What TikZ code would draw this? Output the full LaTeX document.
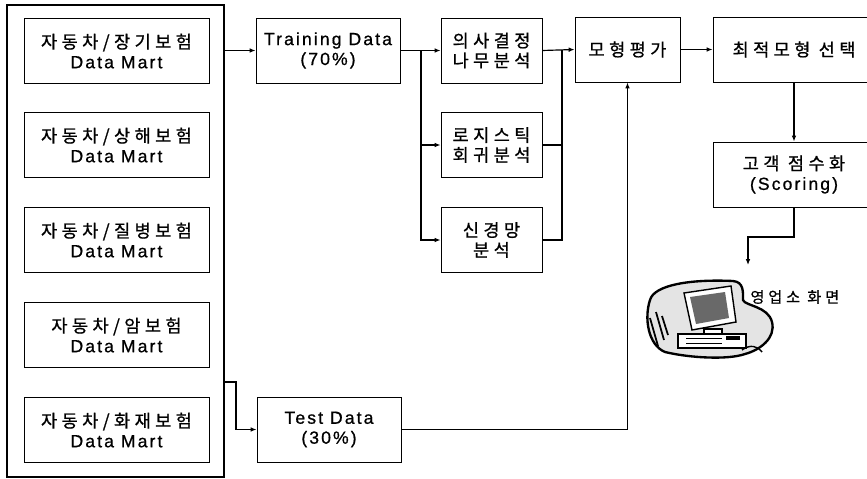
\documentclass[tikz,border=0pt]{standalone}
\usepackage{fontspec}
\setmainfont[LetterSpace=12,FakeBold=0.8]{Liberation Sans}
\newfontfamily\kr[LetterSpace=25,FakeBold=0.8]{Noto Sans CJK KR}
\usepackage{tikz}
\usetikzlibrary{arrows.meta}
\usepackage{xcolor}
\definecolor{blob_grey}{RGB}{228,228,228}
\definecolor{screen_grey}{RGB}{105,105,105}

\begin{document}
\begin{tikzpicture}[x=0.03cm,y=-0.03cm,line width=1pt,
                    >={Latex[length=5pt,width=4pt]},
                    every node/.style={font=\fontsize{15}{17}\selectfont}]
    \tikzstyle{box}=[draw,rectangle,line width=0.8pt,align=center,inner sep=0pt,minimum height=1.95cm]
    \tikzstyle{arr}=[->]

    \useasboundingbox (0,0) rectangle (867,479);
    \clip (0,0) rectangle (867,479);

    % data marts
    \node[draw,line width=1.1pt,minimum width=6.51cm,minimum height=14.16cm] (marts) at (115.5,241) {};
    \node[box,minimum width=5.55cm] (mart1) at (116.5,51)  {{\kr 자동차/장기보험}\\Data Mart};
    \node[box,minimum width=5.55cm] (mart2) at (116.5,145) {{\kr 자동차/상해보험}\\Data Mart};
    \node[box,minimum width=5.55cm] (mart3) at (116.5,240) {{\kr 자동차/질병보험}\\Data Mart};
    \node[box,minimum width=5.55cm] (mart4) at (116.5,335) {{\kr 자동차/암보험}\\Data Mart};
    \node[box,minimum width=5.55cm] (mart5) at (116.5,430) {{\kr 자동차/화재보험}\\Data Mart};

    % split
    \node[box,minimum width=4.32cm] (train) at (328,50.5)  {Training Data\\(70\%)};
    \node[box,minimum width=4.32cm] (test)  at (329,429.5) {Test Data\\(30\%)};

    % models
    \node[box,minimum width=3.03cm] (tree)  at (491.5,50.5) {{\kr 의사결정}\\{\kr 나무분석}};
    \node[box,minimum width=3.03cm] (logit) at (491.5,145)  {{\kr 로지스틱}\\{\kr 회귀분석}};
    \node[box,minimum width=3.03cm] (nnet)  at (491.5,240)  {{\kr 신경망}\\{\kr 분석}};

    \node[box,minimum width=3.15cm] (eval)    at (627.5,49.5) {\kr 모형평가};
    \node[box,minimum width=4.86cm] (best)    at (794,49.5)   {\kr 최적모형 선택};
    \node[box,minimum width=4.86cm] (scoring) at (794,174.5)  {{\kr 고객 점수화}\\(Scoring)};

    \coordinate (tsplit) at (236,382);
    \coordinate (fork)   at (421,50.5);
    \coordinate (join)   at (562,50.5);
    \coordinate (drop)   at (748,237);
    \coordinate (pc_in)  at (748,265);

    % connectors
    \draw[arr] (marts.east |- train.west) -- (train.west);
    \draw[arr] (marts.east |- tsplit) -- (tsplit) |- (test.west);
    \draw (train.east) -- (fork);
    \draw[arr] (fork) -- (tree.west);
    \draw[arr] (fork) |- (logit.west);
    \draw[arr] (fork) |- (nnet.west);
    \draw (logit.east) -- (join |- logit.east);
    \draw (nnet.east) -| (join);
    \draw[arr] (tree.east) -- (eval.west);
    \draw[arr] (test.east) -| (eval.south);
    \draw[arr] (eval.east) -- (best.west);
    \draw[arr] (best.south) -- (scoring.north);
    \draw[arr] (scoring.south) |- (drop) -- (pc_in);

    % sales office terminal
    \draw[line width=2pt,fill=blob_grey]
        (650,300) .. controls (654,285) and (690,279) .. (733,281)
        .. controls (744,282) and (743,292) .. (743,300)
        .. controls (745,306) and (768,306) .. (772,322)
        .. controls (776,338) and (760,350) .. (745,354)
        .. controls (728,360) and (690,358) .. (665,352)
        .. controls (648,345) and (644,318) .. (650,300) -- cycle;
    \draw[line width=1.2pt,fill=white] (684,293) -- (731,286) -- (736,322) -- (692,330) -- cycle;
    \fill[screen_grey] (690,297) -- (725,292) -- (729,318) -- (696,324) -- cycle;
    \draw[line width=1pt,fill=white] (704,329) rectangle (722,334);
    \draw[line width=1.2pt,fill=white] (678,334) rectangle (746,348);
    \draw[line width=0.8pt] (686,338) -- (722,338) (686,343) -- (722,343);
    \fill (726,336) rectangle (740,340);
    \draw[line width=1.5pt] (650,318) -- (658,346) (656,312) -- (664,340) (662,316) -- (668,335);
    \draw[line width=1.2pt] (742,350) .. controls (750,344) and (758,346) .. (762,352);
    \node[anchor=west,font=\fontsize{13}{15}\selectfont] (pc_label) at (746,297) {\kr 영업소 화면};
\end{tikzpicture}
\end{document}
